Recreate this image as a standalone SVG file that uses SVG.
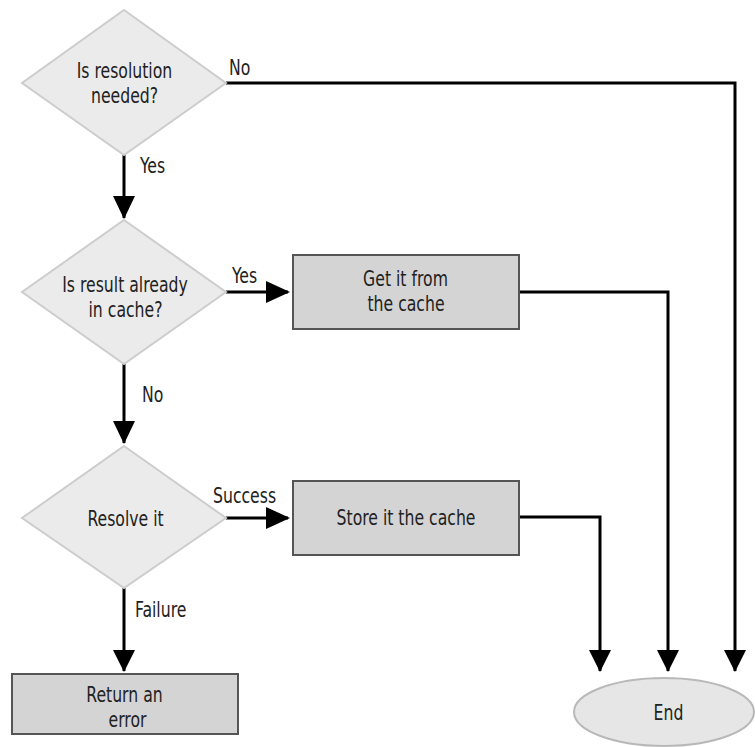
<svg xmlns="http://www.w3.org/2000/svg" width="755" height="747" viewBox="0 0 755 747">
<defs>
<style>
.dia{fill:#ebebeb;stroke:#cdcdcd;stroke-width:2}
.box{fill:#d4d4d4;stroke:#555;stroke-width:2}
.ell{fill:#e6e6e6;stroke:#b8b8b8;stroke-width:2}
.ln{fill:none;stroke:#000;stroke-width:3}
text{font-family:"DejaVu Sans Condensed","Liberation Sans Narrow","Liberation Sans",Arial,sans-serif;font-size:20.5px;fill:#222}
.c{text-anchor:middle}
</style>
</defs>
<rect width="755" height="747" fill="#fff"/>
<g id="connectors">
<path class="ln" d="M124,155 V218"/>
<path class="ln" d="M124,364 V443"/>
<path class="ln" d="M124,588 V671"/>
<path class="ln" d="M226,292 H288"/>
<path class="ln" d="M226,518 H288"/>
<path class="ln" d="M226,83 H735 V671"/>
<path class="ln" d="M519,292 H668 V671"/>
<path class="ln" d="M519,517 H600 V671"/>
<path d="M113,196 L135,196 L124,219 Z"/>
<path d="M113,421 L135,421 L124,444 Z"/>
<path d="M113,650 L135,650 L124,672 Z"/>
<path d="M266,281 L266,303 L290,292 Z"/>
<path d="M266,507 L266,529 L290,518 Z"/>
<path d="M589,650 L611,650 L600,672 Z"/>
<path d="M657,650 L679,650 L668,672 Z"/>
<path d="M724,650 L746,650 L735,672 Z"/>
<text transform="translate(229,75) scale(0.85,1)">No</text>
<text transform="translate(140,173) scale(0.85,1)">Yes</text>
<text transform="translate(232,283) scale(0.85,1)">Yes</text>
<text transform="translate(142,402) scale(0.85,1)">No</text>
<text transform="translate(213,503) scale(0.85,1)">Success</text>
<text transform="translate(135,617) scale(0.85,1)">Failure</text>
</g>
<g id="n1">
<polygon class="dia" points="124,10 226,83 124,155 22,83"/>
<text class="c" transform="translate(124.5,78) scale(0.85,1)">Is resolution</text>
<text class="c" transform="translate(124.5,103) scale(0.85,1)">needed?</text>
</g>
<g id="n2">
<polygon class="dia" points="124,220 226,292 124,364 22,292"/>
<text class="c" transform="translate(125,292) scale(0.85,1)">Is result already</text>
<text class="c" transform="translate(125.5,317) scale(0.85,1)">in cache?</text>
</g>
<g id="n3">
<polygon class="dia" points="124,446 226,518 124,588 22,518"/>
<text class="c" transform="translate(125.5,526) scale(0.85,1)">Resolve it</text>
</g>
<g id="n4">
<rect class="box" x="293" y="255" width="226" height="74"/>
<text class="c" transform="translate(405.5,286) scale(0.85,1)">Get it from</text>
<text class="c" transform="translate(406,311) scale(0.85,1)">the cache</text>
</g>
<g id="n5">
<rect class="box" x="293" y="481" width="226" height="74"/>
<text class="c" transform="translate(406,525) scale(0.85,1)">Store it the cache</text>
</g>
<g id="n6">
<rect class="box" x="12" y="674" width="226" height="60"/>
<text class="c" transform="translate(124.5,702) scale(0.85,1)">Return an</text>
<text class="c" transform="translate(127.5,727) scale(0.85,1)">error</text>
</g>
<g id="n7">
<ellipse class="ell" cx="664" cy="712" rx="90" ry="34"/>
<text class="c" transform="translate(668.5,720) scale(0.85,1)">End</text>
</g>
</svg>
